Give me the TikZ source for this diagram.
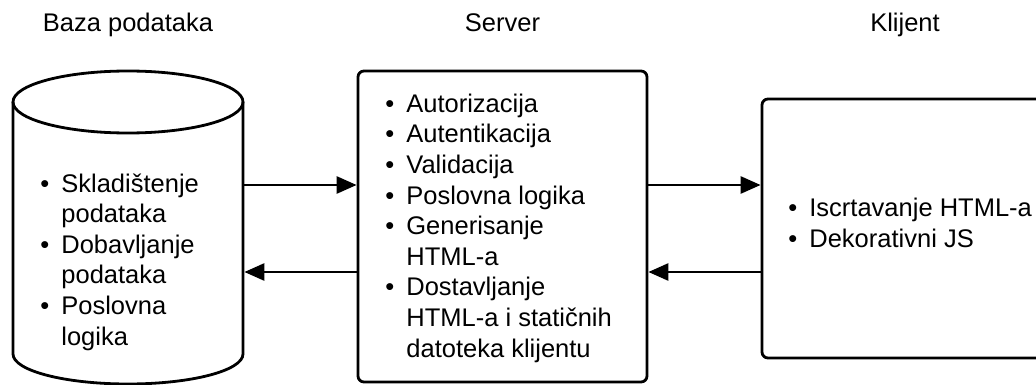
\documentclass[tikz,border=0pt]{standalone}
\usepackage{fontspec}
\setmainfont{Liberation Sans}
\usetikzlibrary{arrows.meta}
\newcommand\bl{\makebox[21pt][l]{\textbullet}}
\newcommand\ind{\hspace*{21pt}}
\begin{document}
\begin{tikzpicture}[x=1pt,y=-1pt,
  line width=2.8pt,
  txt/.style={font=\fontsize{25.5}{30.6}\selectfont, inner sep=0pt},
  lst/.style={txt, anchor=base west, align=left},
  hdr/.style={txt, anchor=base},
  boxn/.style={draw, rounded corners=6pt, inner sep=0pt},
  arr/.style={-{Triangle[length=20pt,width=17pt]}}]
\clip (0,0) rectangle (1036,385);
% headers
\node[hdr] (h1) at (128,32) {Baza podataka};
\node[hdr] (h2) at (502.5,32) {Server};
\node[hdr] (h3) at (905,32) {Klijent};
% database cylinder
\draw (13,102) -- (13,354) arc[start angle=180, end angle=0, x radius=115, y radius=30] -- (243,102);
\draw (128,102) ellipse [x radius=115, y radius=31];
\node[inner sep=0pt, minimum width=230, minimum height=252] (db) at (128,228) {};
% server and client boxes
\node[boxn, minimum width=289, minimum height=311] (srv) at (502.5,226.5) {};
\node[boxn, minimum width=288, minimum height=259] (cli) at (906,228.5) {};
% texts (anchor = baseline of the last line)
\node[lst] (dbtxt) at (39,345) {\bl Skladištenje\\\ind podataka\\\bl Dobavljanje\\\ind podataka\\\bl Poslovna\\\ind logika};
\node[lst] (srvtxt) at (384,357) {\bl Autorizacija\\\bl Autentikacija\\\bl Validacija\\\bl Poslovna logika\\\bl Generisanje\\\ind HTML-a\\\bl Dostavljanje\\\ind HTML-a i statičnih\\\ind datoteka klijentu};
\node[lst] (clitxt) at (787,247) {\bl Iscrtavanje HTML-a\\\bl Dekorativni JS};
% connectors
\coordinate (r1) at (0,185);
\coordinate (r2) at (0,272);
\draw[arr] (db.east |- r1) -- (srv.west |- r1);
\draw[arr] (srv.west |- r2) -- (db.east |- r2);
\draw[arr] (srv.east |- r1) -- (cli.west |- r1);
\draw[arr] (cli.west |- r2) -- (srv.east |- r2);
\end{tikzpicture}
\end{document}
